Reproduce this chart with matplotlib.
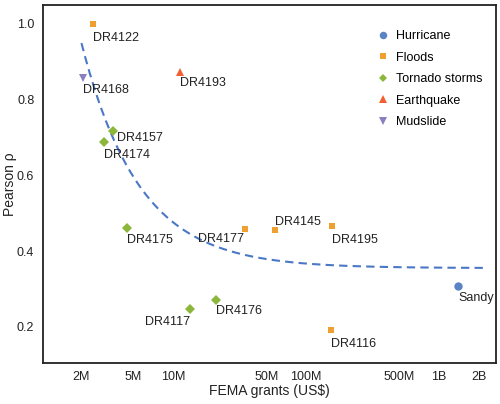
import matplotlib
matplotlib.use("Agg")
import matplotlib.pyplot as plt
import numpy as np

plt.rcParams['font.family'] = ['Liberation Sans', 'DejaVu Sans']

# disasters: grants (US$), Pearson rho, type
names = ['Sandy', 'DR4122', 'DR4177', 'DR4145', 'DR4195', 'DR4116',
         'DR4157', 'DR4174', 'DR4175', 'DR4117', 'DR4176',
         'DR4193', 'DR4168']
grants = [1.41e9, 2.47e6, 34.9e6, 58e6, 157e6, 154e6,
          3.5e6, 3.0e6, 4.47e6, 13.4e6, 21e6,
          11.2e6, 2.07e6]
rho = [0.308, 1.0, 0.458, 0.455, 0.466, 0.192,
       0.718, 0.687, 0.461, 0.247, 0.271,
       0.874, 0.858]
kinds = ['Hurricane', 'Floods', 'Floods', 'Floods', 'Floods', 'Floods',
         'Tornado storms', 'Tornado storms', 'Tornado storms', 'Tornado storms', 'Tornado storms',
         'Earthquake', 'Mudslide']

# trend curve rho = floor + scale / grants
trend_floor = 0.355
trend_scale = 1.2e6
trend_range = (2.02e6, 2.24e9)

tick_vals = [2e6, 5e6, 1e7, 5e7, 1e8, 5e8, 1e9, 2e9]
tick_labels = ['2M', '5M', '10M', '50M', '100M', '500M', '1B', '2B']

styles = {
    'Hurricane': ('o', '#5b84c4', 6),
    'Floods': ('s', '#f0a030', 4.5),
    'Tornado storms': ('D', '#8db63c', 5),
    'Earthquake': ('^', '#f06030', 6),
    'Mudslide': ('v', '#8b7fc0', 6),
}

# label offsets in points (dx, dy, ha)
offsets = {
    'Sandy': (0, -9, 'left'), 'DR4122': (0, -10, 'left'), 'DR4177': (-1, -7, 'right'),
    'DR4145': (0, 6, 'left'), 'DR4195': (0, -10, 'left'), 'DR4116': (0, -10, 'left'),
    'DR4157': (3, -5, 'left'), 'DR4174': (0, -9, 'left'), 'DR4175': (0, -9, 'left'),
    'DR4117': (0, -9, 'right'), 'DR4176': (0, -8, 'left'), 'DR4193': (0, -8, 'left'),
    'DR4168': (0, -9, 'left'),
}

fig = plt.figure(figsize=(5, 4.04), dpi=100)
ax = fig.add_axes([0.0854, 0.102, 0.9066, 0.886])

xs = np.logspace(np.log10(trend_range[0]), np.log10(trend_range[1]), 300)
ax.plot(xs, trend_floor + trend_scale / xs, color='#4a78c6', lw=1.5, ls=(0, (4, 2.5)), zorder=2)

for kind, (m, c, s) in styles.items():
    xk = [g for g, k in zip(grants, kinds) if k == kind]
    yk = [r for r, k in zip(rho, kinds) if k == kind]
    ax.plot(xk, yk, ls='none', marker=m, color=c, ms=s, mew=0, label=kind, zorder=3)

for n, g, r in zip(names, grants, rho):
    dx, dy, ha = offsets[n]
    ax.annotate(n, (g, r), xytext=(dx, dy), textcoords='offset points',
                ha=ha, va='center', fontsize=9, color='#222222')

ax.set_xscale('log')
ax.set_xlim(1.03e6, 2.71e9)
ax.set_ylim(0.105, 1.05)
ax.set_xticks(tick_vals)
ax.set_xticklabels(tick_labels)
ax.minorticks_off()
ax.set_yticks([0.2, 0.4, 0.6, 0.8, 1.0])
ax.set_yticklabels(['0.2', '0.4', '0.6', '0.8', '1.0'])
ax.tick_params(length=0, labelsize=9, pad=6, colors='#222222')
for sp in ax.spines.values():
    sp.set_linewidth(1.3)
    sp.set_color('#222222')

ax.set_xlabel('FEMA grants (US$)', fontsize=10, color='#222222')
ax.set_ylabel('Pearson ρ', fontsize=10, color='#222222')
ax.xaxis.set_label_coords(0.5, -0.06)
ax.yaxis.set_label_coords(-0.057, 0.5)

ax.legend(loc='upper right', bbox_to_anchor=(0.995, 0.96), frameon=False, fontsize=9,
          handlelength=1.0, handletextpad=0.5, labelspacing=0.75, markerscale=0.9)

fig.savefig('out.png', dpi=100)
